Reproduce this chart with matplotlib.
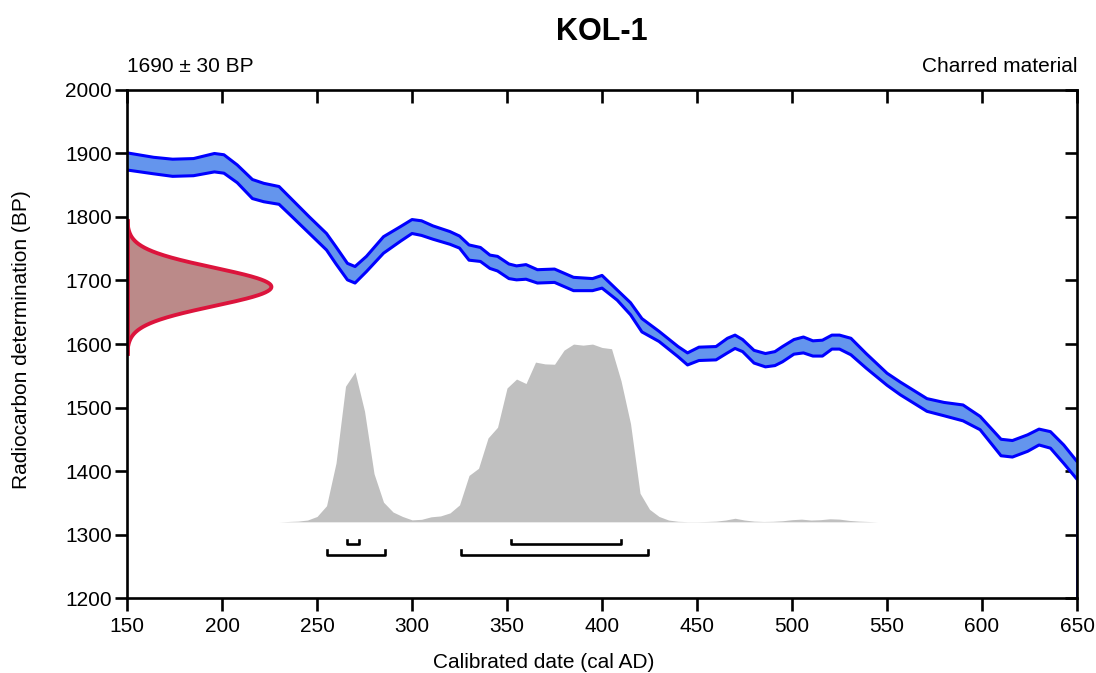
import numpy as np
import matplotlib

matplotlib.use("Agg")
import matplotlib.pyplot as plt

plt.rcParams["font.family"] = ["Liberation Sans", "DejaVu Sans"]

# sample info
sample_name = "KOL-1"
c14_mean = 1690
c14_sd = 30
material = "Charred material"

# calibration curve band (cal AD, upper / lower BP)
curve_x = [150, 164, 174, 185, 196, 201, 208, 216, 222, 230, 237, 246, 255, 260,
           266, 270, 276, 285, 294, 300, 305, 311, 320, 325, 330, 336, 341, 345,
           351, 355, 360, 366, 375, 385, 395, 400, 408, 415, 421, 430, 440, 445,
           451, 460, 466, 470, 474, 480, 486, 491, 495, 501, 506, 511, 516, 521,
           525, 531, 539, 550, 557, 571, 580, 590, 599, 610, 616, 624, 630, 636,
           643, 650]
curve_hi = [1901, 1894, 1891, 1892, 1900, 1898, 1882, 1859, 1853, 1848, 1827, 1800,
            1774, 1753, 1727, 1722, 1738, 1769, 1785, 1796, 1794, 1786, 1777, 1770,
            1756, 1752, 1740, 1738, 1726, 1723, 1725, 1717, 1718, 1705, 1703, 1708,
            1685, 1665, 1640, 1620, 1596, 1586, 1595, 1596, 1609, 1614, 1607, 1590,
            1585, 1588, 1596, 1607, 1611, 1605, 1606, 1614, 1614, 1609, 1585, 1554,
            1540, 1514, 1508, 1504, 1486, 1450, 1448, 1457, 1466, 1462, 1441, 1415]
curve_lo = [1874, 1868, 1864, 1865, 1871, 1869, 1854, 1829, 1824, 1820, 1800, 1774,
            1748, 1726, 1701, 1696, 1714, 1743, 1762, 1774, 1771, 1765, 1757, 1751,
            1732, 1730, 1719, 1715, 1703, 1701, 1702, 1696, 1697, 1684, 1684, 1688,
            1669, 1646, 1619, 1604, 1580, 1567, 1574, 1575, 1586, 1593, 1588, 1570,
            1564, 1566, 1572, 1584, 1586, 1581, 1581, 1592, 1592, 1583, 1562, 1535,
            1520, 1494, 1487, 1479, 1465, 1424, 1422, 1431, 1441, 1436, 1412, 1387]

# calibrated probability (relative), 5-year steps
prob_x = list(range(230, 550, 5))
prob_y = [0, 0.002, 0.004, 0.01, 0.03, 0.09, 0.33, 0.76, 0.84, 0.62, 0.27, 0.11,
          0.055, 0.03, 0.011, 0.014, 0.028, 0.033, 0.05, 0.095, 0.26, 0.30, 0.47,
          0.53, 0.75, 0.80, 0.775, 0.895, 0.885, 0.883, 0.962, 0.996, 0.99, 0.996,
          0.977, 0.97, 0.79, 0.55, 0.16, 0.07, 0.03, 0.01, 0.003, 0.001, 0.001,
          0.002, 0.004, 0.01, 0.02, 0.01, 0.004, 0.002, 0.003, 0.006, 0.012, 0.015,
          0.01, 0.012, 0.017, 0.015, 0.008, 0.004, 0.002, 0]

# highest posterior density ranges
range_68 = [(266, 272), (352, 410)]
range_95 = [(255, 286), (326, 424)]

fig = plt.figure(figsize=(10.96, 6.73), dpi=100)
ax = fig.add_axes([0.1159, 0.1114, 0.8668, 0.7549])

# calibrated distribution
base, peak = 1320, 281
ax.fill_between(prob_x, base, base + np.array(prob_y) * peak, color="#c0c0c0",
                lw=0, zorder=1)

# calibration curve
ax.fill_between(curve_x, curve_lo, curve_hi, color="#6495ed", lw=0, zorder=2)
for edge in (curve_hi, curve_lo):
    ax.plot(curve_x, edge, color="#0000ff", lw=2.2, zorder=3,
            solid_joinstyle="round", solid_capstyle="round")
ax.plot([650, 650], [1200, curve_lo[-1]], color="#0000ff", lw=1.2, zorder=6,
        clip_on=False)

# radiocarbon date on y axis
yy = np.linspace(c14_mean - 3.5 * c14_sd, c14_mean + 3.5 * c14_sd, 300)
dens = np.exp(-0.5 * ((yy - c14_mean) / c14_sd) ** 2)
xx = 150 + 76 * dens
ax.fill_betweenx(yy, 150, xx, color="#bb8a89", lw=0, zorder=4)
ax.plot(xx, yy, color="#dc143c", lw=2.8, zorder=5, solid_capstyle="round")
ax.plot([150.4, 150.4], [yy[0], yy[-1]], color="#dc143c", lw=2.0, zorder=5)

# range brackets
for (a, b) in range_68:
    ax.plot([a, a, b, b], [1292, 1285, 1285, 1292], color="k", lw=1.9, zorder=5)
for (a, b) in range_95:
    ax.plot([a, a, b, b], [1275, 1268, 1268, 1275], color="k", lw=1.9, zorder=5)

ax.set_xlim(150, 650)
ax.set_ylim(1200, 2000)
ax.set_xticks(np.arange(150, 651, 50))
ax.set_yticks(np.arange(1200, 2001, 100))
for s in ax.spines.values():
    s.set_linewidth(1.9)
    s.set_zorder(7)
ax.tick_params(axis="both", which="major", length=9, width=1.9, labelsize=15,
               top=True, right=True, direction="out", color="k")
ax.tick_params(axis="x", pad=5)
ax.tick_params(axis="y", pad=2)
# top / right ticks point inward
for t in ax.xaxis.get_major_ticks():
    t.tick2line.set_marker(matplotlib.lines.TICKDOWN)
for t in ax.yaxis.get_major_ticks():
    t.tick2line.set_marker(matplotlib.lines.TICKLEFT)

ax.text(0.0, 1.035, f"{c14_mean} \u00b1 {c14_sd} BP", transform=ax.transAxes,
        fontsize=15, ha="left", va="baseline")
ax.text(1.0, 1.035, material, transform=ax.transAxes,
        fontsize=15, ha="right", va="baseline")
fig.text(0.549, 0.952, sample_name, fontsize=22, fontweight="bold",
         ha="center", va="center")
fig.text(0.496, 0.016, "Calibrated date (cal AD)", fontsize=15,
         ha="center", va="center")
fig.text(0.020, 0.496, "Radiocarbon determination (BP)", fontsize=15,
         ha="center", va="center", rotation=90)

fig.savefig("out.png", dpi=100)
